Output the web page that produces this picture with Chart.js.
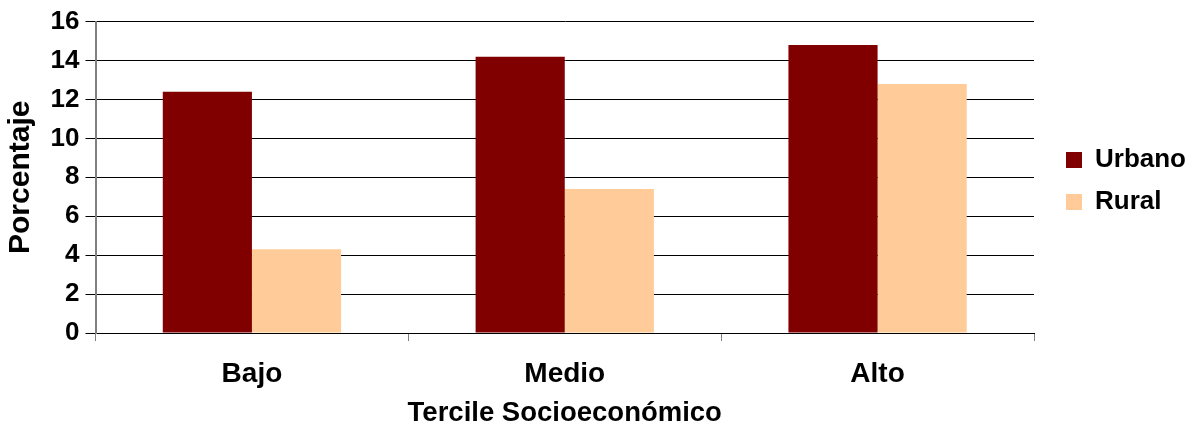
<!DOCTYPE html>
<html>
<head>
<meta charset="utf-8">
<script src="https://cdn.jsdelivr.net/npm/chart.js@4/dist/chart.umd.min.js"></script>
<style>
html,body{margin:0;padding:0;background:#ffffff;}
#wrap{width:1201px;height:431px;}
</style>
</head>
<body>
<div id="wrap"><canvas id="c" width="1201" height="431"></canvas></div>
<script>
const categories = ['Bajo', 'Medio', 'Alto'];
const urbano = [12.4, 14.2, 14.8];
const rural = [4.3, 7.4, 12.8];
const seriesNames = ['Urbano', 'Rural'];
const yAxisTitle = 'Porcentaje';
const xAxisTitle = 'Tercile Socioeconómico';
const yMin = 0, yMax = 16, yStep = 2;

const FONT = '"Liberation Sans", Arial, sans-serif';
Chart.defaults.font.family = FONT;
Chart.defaults.color = '#000';

new Chart(document.getElementById('c'), {
  type: 'bar',
  data: {
    labels: categories,
    datasets: [
      { label: seriesNames[0], data: urbano, backgroundColor: '#800000', borderWidth: 0,
        categoryPercentage: 0.57, barPercentage: 1.0 },
      { label: seriesNames[1], data: rural, backgroundColor: '#FFCC99', borderWidth: 0,
        categoryPercentage: 0.57, barPercentage: 1.0 }
    ]
  },
  options: {
    responsive: false,
    animation: false,
    layout: { padding: { top: 21, right: 5, left: 0, bottom: 0 } },
    plugins: {
      legend: {
        position: 'right',
        align: 'start',
        title: { display: true, text: ' ', font: { size: 10 }, padding: { top: 98, bottom: 0 } },
        labels: {
          boxWidth: 16, boxHeight: 16, padding: 16, color: '#000',
          font: { size: 26, weight: 'bold' }
        }
      },
      tooltip: { enabled: false }
    },
    scales: {
      x: {
        ticks: { color: '#000', font: { size: 28, weight: 'bold' }, padding: 16, maxRotation: 0 },
        grid: { display: true, drawOnChartArea: false, drawTicks: true, tickLength: 8,
                tickColor: '#808080', tickWidth: 1, offset: true },
        border: { color: '#000', width: 1 },
        title: { display: true, text: xAxisTitle, color: '#000',
                 font: { size: 27.5, weight: 'bold' }, padding: { top: -9.6, bottom: 1 } }
      },
      y: {
        min: yMin, max: yMax,
        ticks: { stepSize: yStep, color: '#000', font: { size: 26, weight: 'bold' }, padding: 6 },
        grid: { color: '#000', lineWidth: 1, tickLength: 10, tickColor: '#000' },
        border: { color: '#808080', width: 2 },
        title: { display: true, text: yAxisTitle, color: '#000',
                 font: { size: 30, weight: 'bold' }, padding: { top: 3, bottom: 5.6 } }
      },
      yR: {
        position: 'right',
        display: true,
        grid: { display: false, drawTicks: false },
        border: { display: false },
        ticks: { display: false },
        afterFit: function (s) { s.width = 16; }
      }
    }
  }
});
</script>
</body>
</html>
